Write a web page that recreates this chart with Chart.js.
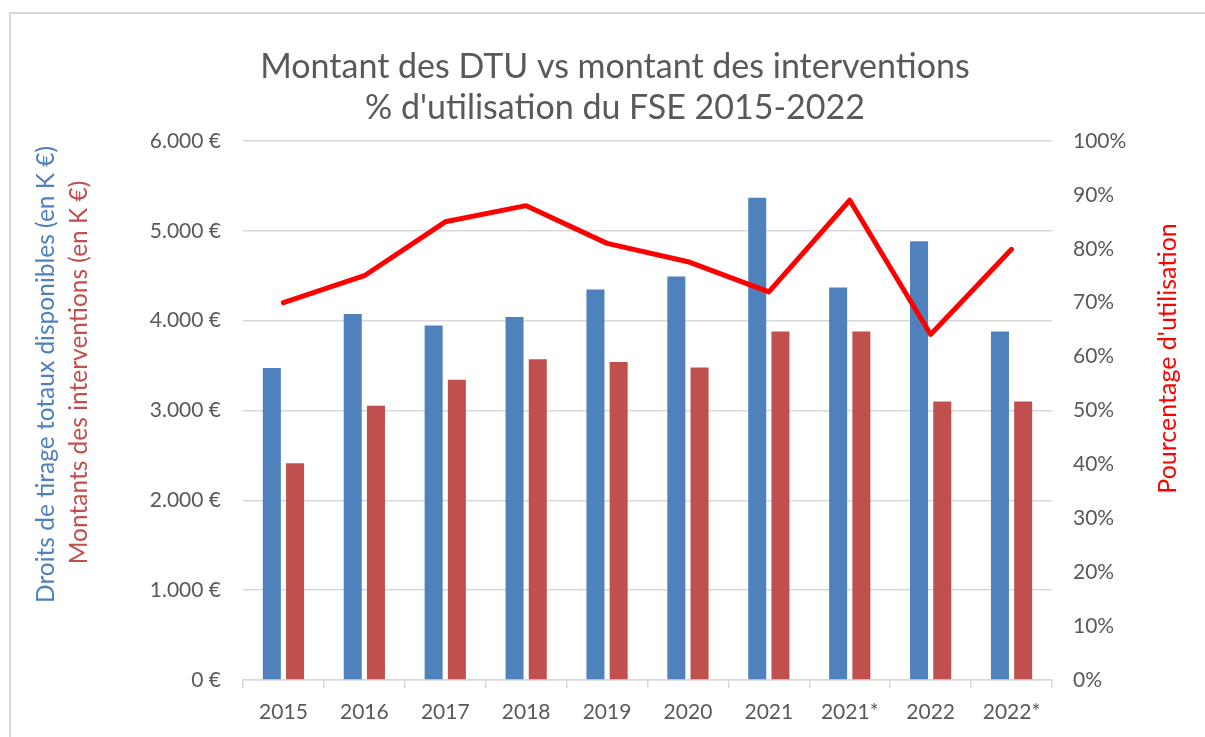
<!DOCTYPE html>
<html lang="fr">
<head>
<meta charset="utf-8">
<script src="https://cdn.jsdelivr.net/npm/chart.js@4"></script>
<style>
  html, body { margin: 0; padding: 0; background: #fff; overflow: hidden; }
  #frame {
    position: absolute; left: 9px; top: 12px; width: 1300px; height: 800px;
    border: 2px solid #d9d9d9; box-sizing: border-box;
  }
  #wrap { position: absolute; left: 0; top: 0; width: 1230px; height: 737px; }
</style>
</head>
<body>
<div id="frame"></div>
<div id="wrap"><canvas id="chart"></canvas></div>
<script>
// --- données ---
const years = ['2015', '2016', '2017', '2018', '2019', '2020', '2021', '2021*', '2022', '2022*'];
const dtu = [3474, 4075, 3945, 4041, 4346, 4490, 5368, 4368, 4885, 3880];           // droits de tirage (K €)
const interventions = [2412, 3052, 3342, 3569, 3539, 3479, 3880, 3880, 3100, 3100]; // montants des interventions (K €)
const utilisation = [70, 75, 85, 88, 81, 77.6, 72, 89, 64.1, 79.9];                 // % d'utilisation

const titleLines = ["Montant des DTU vs montant des interventions", "% d'utilisation du FSE 2015-2022"];
const leftTitleBlue = 'Droits de tirage totaux disponibles (en K €)';
const leftTitleRed = 'Montants des interventions (en K €)';
const rightTitle = "Pourcentage d'utilisation";

const FONT = 'Lato, "Open Sans", sans-serif';
const GREY = '#595959';
const GRID = '#d9d9d9';

function euro(v) {
    return new Intl.NumberFormat('de-DE').format(v) + ' €';
}

// titres d'axes (deux couleurs à gauche)
const axisTitles = {
    id: 'axisTitles',
    afterDraw(chart) {
        const ctx = chart.ctx;
        const a = chart.chartArea;
        const mid = (a.top + a.bottom) / 2;
        const draw = (text, x, y, color, size) => {
            ctx.save();
            ctx.translate(x, y);
            ctx.rotate(-Math.PI / 2);
            ctx.font = size + 'px ' + FONT;
            ctx.fillStyle = color;
            ctx.textAlign = 'center';
            ctx.textBaseline = 'middle';
            ctx.fillText(text, 0, 0);
            ctx.restore();
        };
        draw(leftTitleBlue, a.left - 197, mid - 36, '#4F81BD', 24.5);
        draw(leftTitleRed, a.left - 164, mid - 38, '#C0504D', 24.5);
        draw(rightTitle, a.right + 116, mid - 52, '#FF0000', 25);
    }
};

new Chart(document.getElementById('chart'), {
    data: {
        labels: years,
        datasets: [
            {
                type: 'line',
                label: "% d'utilisation",
                data: utilisation,
                yAxisID: 'y1',
                borderColor: '#FF0000',
                borderWidth: 5,
                pointRadius: 0,
                tension: 0,
                borderCapStyle: 'round',
                borderJoinStyle: 'round',
                order: 0
            },
            {
                type: 'bar',
                label: 'DTU',
                data: dtu,
                yAxisID: 'y',
                backgroundColor: '#4F81BD',
                categoryPercentage: 0.574,
                barPercentage: 0.776,
                order: 1
            },
            {
                type: 'bar',
                label: 'Interventions',
                data: interventions,
                yAxisID: 'y',
                backgroundColor: '#C0504D',
                categoryPercentage: 0.574,
                barPercentage: 0.776,
                order: 1
            }
        ]
    },
    options: {
        responsive: true,
        maintainAspectRatio: false,
        animation: false,
        layout: { padding: { left: 0, right: 0, top: 0, bottom: 0 } },
        plugins: {
            legend: { display: false },
            tooltip: { enabled: false },
            title: {
                display: true,
                text: titleLines,
                color: GREY,
                font: { family: FONT, size: 34, weight: 'normal', lineHeight: 1.22 },
                padding: { top: 46, bottom: 12 }
            }
        },
        scales: {
            x: {
                grid: { offset: true, drawOnChartArea: false, drawTicks: true, tickLength: 8, color: GRID, lineWidth: 1.5 },
                border: { color: GRID, width: 1.5 },
                ticks: { color: GREY, font: { family: FONT, size: 21 }, padding: 12, maxRotation: 0 },
                afterFit(scale) { scale.height = 57; }
            },
            y: {
                position: 'left',
                min: 0,
                max: 6000,
                ticks: { stepSize: 1000, color: GREY, font: { family: FONT, size: 21 }, padding: 22, callback: v => euro(v) },
                grid: { color: GRID, lineWidth: 1.5, drawTicks: false },
                border: { display: false },
                afterFit(scale) { scale.width = 243; }
            },
            y1: {
                position: 'right',
                min: 0,
                max: 100,
                ticks: { stepSize: 10, color: GREY, font: { family: FONT, size: 21 }, padding: 21, callback: v => v + '%' },
                grid: { drawOnChartArea: false, drawTicks: false },
                border: { display: false },
                afterFit(scale) { scale.width = 1230 - 1052; }
            }
        }
    },
    plugins: [axisTitles]
});
</script>
</body>
</html>
